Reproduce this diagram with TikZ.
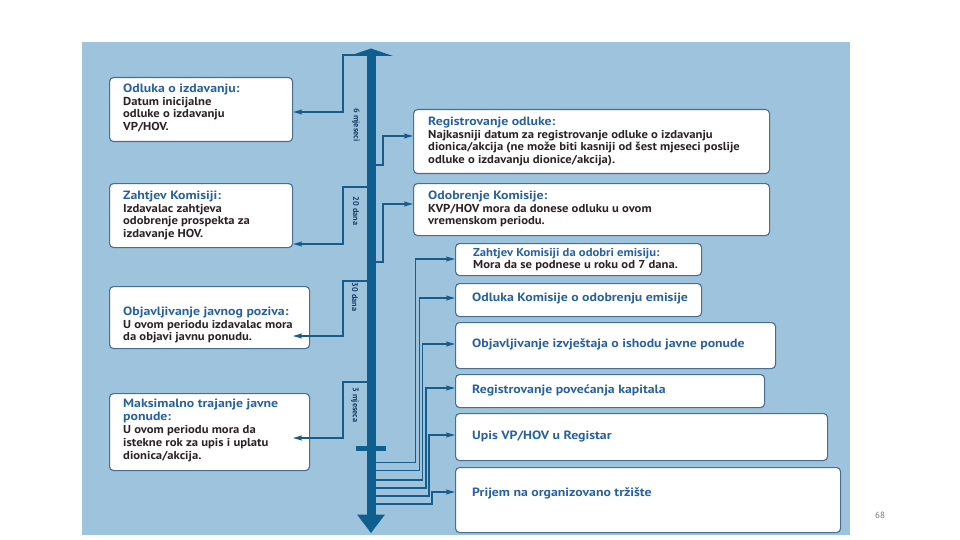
\documentclass[tikz,border=0pt]{standalone}
\usepackage{fontspec}
\setmainfont{PT Sans}
\newfontfamily\bodyf{PT Sans}[FakeStretch=1.1]
\newfontfamily\titlef{PT Sans}[FakeStretch=1.15]
\usetikzlibrary{arrows.meta,calc}
\definecolor{bgblue}{RGB}{158,195,220}
\definecolor{barblue}{RGB}{14,94,144}
\definecolor{linecol}{RGB}{24,92,140}
\definecolor{boxcol}{RGB}{72,110,148}
\definecolor{titlecol}{RGB}{40,98,158}
\definecolor{bodycol}{RGB}{44,34,40}
\definecolor{lblcol}{RGB}{26,62,104}
\definecolor{pagecol}{RGB}{120,120,120}
\newcommand{\ttlfont}{\titlef\bfseries\fontsize{12}{12.8}\selectfont}
\newcommand{\tl}[1]{{\ttlfont\textcolor{titlecol}{#1}}}
\begin{document}
\begin{tikzpicture}[x=1pt,y=-1pt,
  box/.style={draw=boxcol, line width=1.1pt, fill=white, rounded corners=4pt,
    anchor=north west, inner sep=0pt},
  txt/.style={anchor=west, align=left, inner sep=0pt, text=bodycol,
    font=\bodyf\bfseries\fontsize{11.5}{12.8}\selectfont},
  ttl/.style={txt, text=titlecol, font=\ttlfont},
  link/.style={draw=linecol, line width=1.3pt},
  conn/.style={link, -{Stealth[length=9pt,width=5pt,inset=1.5pt]}},
  lbl/.style={rotate=-90, inner sep=0pt, text=lblcol,
    font=\bfseries\fontsize{8.3}{10}\selectfont}]
\useasboundingbox (0,0) rectangle (960,540);
\fill[white] (0,0) rectangle (960,540);
\fill[bgblue] (82,42) rectangle (850,535);

% ---------- left boxes ----------
\node[box, minimum width=183pt, minimum height=64pt] (L1) at (109,77) {};
\node[box, minimum width=183pt, minimum height=64pt] (L2) at (109,183) {};
\node[box, minimum width=200pt, minimum height=62pt] (L3) at (109,286) {};
\node[box, minimum width=200pt, minimum height=77pt] (L4) at (109,393) {};

\node[txt] (tL1) at (123,108) {\tl{Odluka o izdavanju:}\\Datum inicijalne\\odluke o izdavanju\\VP/HOV.};
\node[txt] (tL2) at (123,215.5) {\tl{Zahtjev Komisiji:}\\Izdavalac zahtjeva\\odobrenje prospekta za\\izdavanje HOV.};
\node[txt] (tL3) at (123,325) {\tl{Objavljivanje javnog poziva:}\\U ovom periodu izdavalac mora\\da objavi javnu ponudu.};
\node[txt] (tL4) at (123,430.5) {\tl{Maksimalno trajanje javne}\\\tl{ponude:}\\U ovom periodu mora da\\istekne rok za upis i uplatu\\dionica/akcija.};

% ---------- right boxes ----------
\node[box, minimum width=356pt, minimum height=64pt] (R1) at (413,109) {};
\node[box, minimum width=356pt, minimum height=52pt] (R2) at (413,183) {};
\node[box, minimum width=246pt, minimum height=32pt] (R3) at (455,243) {};
\node[box, minimum width=246pt, minimum height=33pt] (R4) at (455,283) {};
\node[box, minimum width=320pt, minimum height=46pt] (R5) at (455,322) {};
\node[box, minimum width=309pt, minimum height=33pt] (R6) at (455,374) {};
\node[box, minimum width=372pt, minimum height=47pt] (R7) at (455,413) {};
\node[box, minimum width=385pt, minimum height=65pt] (R8) at (455,467) {};

\node[txt] (tR1) at (428,141.5) {\tl{Registrovanje odluke:}\\Najkasniji datum za registrovanje odluke o izdavanju\\dionica/akcija (ne može biti kasniji od šest mjeseci poslije\\odluke o izdavanju dionice/akcija).};
\node[txt] (tR2) at (428,209) {\tl{Odobrenje Komisije:}\\KVP/HOV mora da donese odluku u ovom\\vremenskom periodu.};
\node[txt] (tR3) at (473,259.5) {\textcolor{titlecol}{Zahtjev Komisiji da odobri emisiju:}\\Mora da se podnese u roku od 7 dana.};
\node[ttl] (tR4) at (472,298) {Odluka Komisije o odobrenju emisije};
\node[ttl] (tR5) at (472,344) {Objavljivanje izvještaja o ishodu javne ponude};
\node[ttl] (tR6) at (472,390) {Registrovanje povećanja kapitala};
\node[ttl] (tR7) at (472,436) {Upis VP/HOV u Registar};
\node[ttl] (tR8) at (472,493) {Prijem na organizovano tržište};

% ---------- left connectors ----------
\coordinate (lt1) at (371,55);  \coordinate (lk1) at (343,112);
\coordinate (lt2) at (371,187); \coordinate (lk2) at (343,244);
\coordinate (lt3) at (371,281); \coordinate (lk3) at (343,336); \coordinate (le3) at (293,336);
\coordinate (lt4) at (371,382); \coordinate (lk4) at (343,438); \coordinate (le4) at (293,438);
\draw[conn] (lt1) -| (lk1) -- (lk1 -| L1.east);
\draw[conn] (lt2) -| (lk2) -- (lk2 -| L2.east);
\draw[conn] (lt3) -| (lk3) -- (le3);
\draw[conn] (lt4) -| (lk4) -- (le4);

% ---------- right connectors ----------
\coordinate (rb1) at (371,165);   \coordinate (rk1) at (383,136);
\coordinate (rb2) at (371,262);   \coordinate (rk2) at (383,204);
\coordinate (rb3) at (371,462.5); \coordinate (rk3) at (415.5,259);
\coordinate (rb4) at (371,470.5); \coordinate (rk4) at (419.5,298);
\coordinate (rb5) at (371,480);   \coordinate (rk5) at (422.5,344);
\coordinate (rb6) at (371,488);   \coordinate (rk6) at (426,388);
\coordinate (rb7) at (371,496);   \coordinate (rk7) at (429,435);
\coordinate (rb8) at (371,504);   \coordinate (rk8) at (432,492);
\foreach \i in {1,...,8}{
  \draw[conn] (rb\i) -| (rk\i) -- (rk\i -| R\i.west);
}

% ---------- time axis ----------
\coordinate (bartop) at (371,56);
\coordinate (barbot) at (371,515);
\draw[barblue, line width=9pt] (bartop) -- (barbot);
\fill[barblue] ($(bartop)+(-22,0)$) -- ($(bartop)+(22,0)$) -- ($(bartop)+(0,-7.5)$) -- cycle;
\fill[barblue] ($(barbot)+(-14,-0.5)$) -- ($(barbot)+(14,-0.5)$) -- ($(barbot)+(0,18)$) -- cycle;
\fill[barblue] (356,446) rectangle (386,451);

\node[lbl] (m1) at (356,125) {6 mjeseci};
\node[lbl] (m2) at (356,211) {20 dana};
\node[lbl] (m3) at (355,297) {30 dana};
\node[lbl] (m4) at (355,405) {3 mjeseca};

\node[text=pagecol, font=\fontsize{9}{10}\selectfont, inner sep=0pt] (pg) at (880,515) {68};
\end{tikzpicture}
\end{document}
